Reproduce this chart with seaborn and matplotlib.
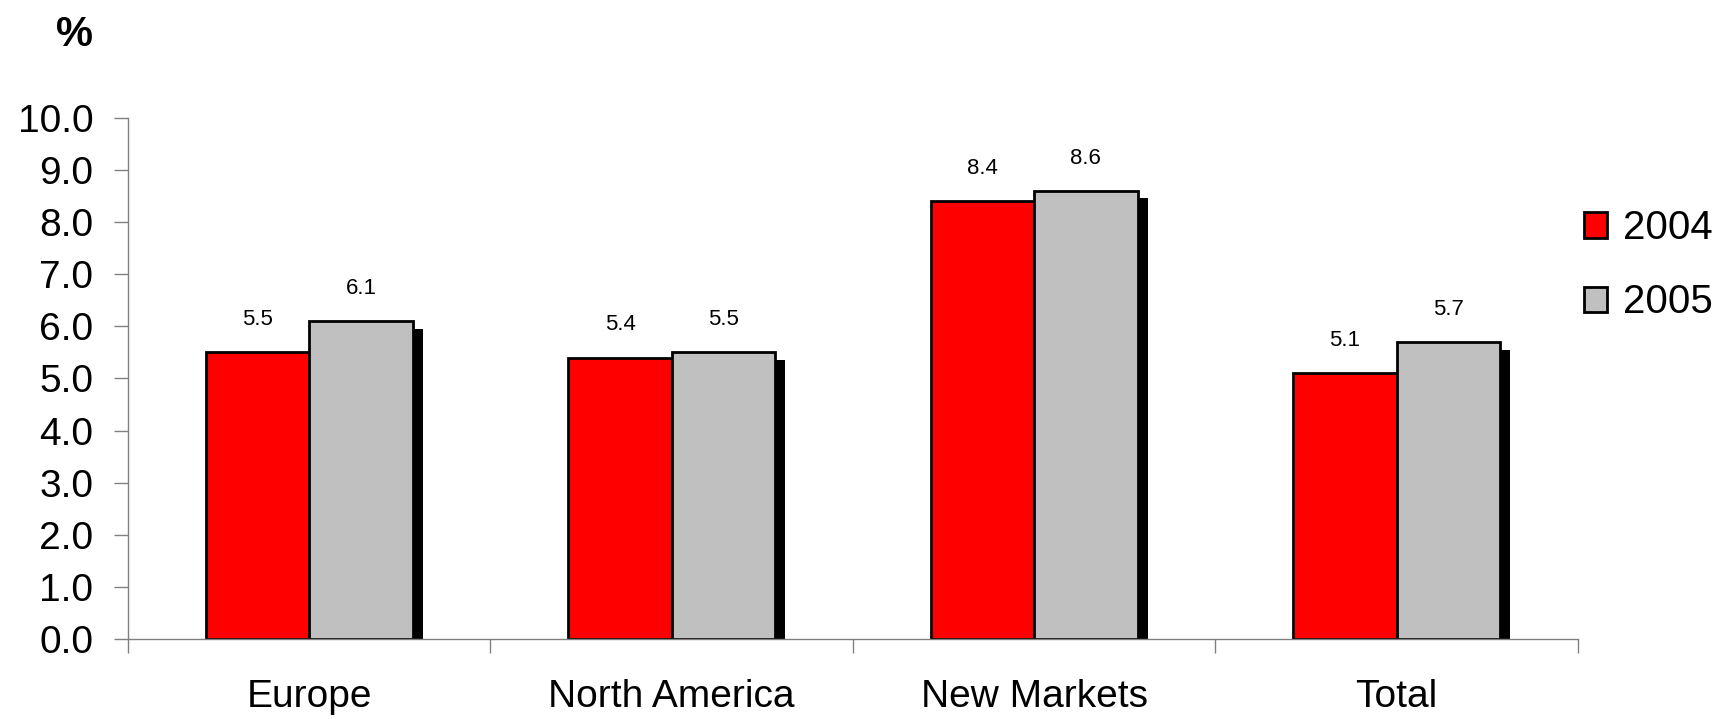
import numpy as np
import pandas as pd
import matplotlib
matplotlib.use('Agg')
import matplotlib.pyplot as plt
from matplotlib.patches import Patch
import seaborn as sns

sns.set_style('white')
plt.rcParams['font.family'] = ['Liberation Sans', 'DejaVu Sans']
plt.rcParams['text.color'] = 'black'
plt.rcParams['xtick.labelcolor'] = 'black'
plt.rcParams['ytick.labelcolor'] = 'black'

# data
regions = ['Europe', 'North America', 'New Markets', 'Total']
years = ['2004', '2005']
val_2004 = [5.5, 5.4, 8.4, 5.1]
val_2005 = [6.1, 5.5, 8.6, 5.7]
yticks = [0, 1, 2, 3, 4, 5, 6, 7, 8, 9, 10]

colors = {'2004': '#FF0000', '2005': '#C0C0C0'}

df = pd.DataFrame({
    'region': regions * 2,
    'year': ['2004'] * 4 + ['2005'] * 4,
    'value': val_2004 + val_2005,
})

fig = plt.figure(figsize=(17.27, 7.19), dpi=100)
ax = fig.add_axes([0.0741, 0.1113, 0.9137 - 0.0741, 0.8359 - 0.1113])

bw = 0.285
# shadow behind the grey bars
idx = np.arange(len(regions))
ax.bar(idx + bw / 2 + 0.028, np.array(val_2005) - 0.144, width=bw,
       color='black', linewidth=0, zorder=0.5)

sns.barplot(data=df, x='region', y='value', hue='year', order=regions,
            hue_order=years, palette=colors, width=2 * bw, gap=0,
            edgecolor='black', linewidth=2, saturation=1, ax=ax,
            legend=False, zorder=1)

# value labels (last two containers are the seaborn bars)
for cont, vals in zip(ax.containers[-2:], [val_2004, val_2005]):
    for bar, v in zip(cont, vals):
        ax.annotate(f'{v:.1f}', (bar.get_x() + bar.get_width() / 2, v),
                    xytext=(0, 16), textcoords='offset points',
                    ha='center', va='bottom', fontsize=16)

ax.set_xlim(-0.5, len(regions) - 0.5)
ax.set_ylim(0, 10)
ax.set_yticks(yticks)
ax.set_yticklabels([f'{t:.1f}' for t in yticks], fontsize=28)
ax.set_xticks(idx)
ax.set_xticklabels(regions, fontsize=28)
ax.set_xticks(np.arange(len(regions) + 1) - 0.5, minor=True)
ax.tick_params(axis='x', which='major', length=0, pad=29)
ax.tick_params(axis='x', which='minor', length=10, width=1, color='#808080',
               direction='out', bottom=True)
ax.tick_params(axis='y', length=10, width=1, color='#808080', pad=15,
               direction='out', left=True)
ax.set_xlabel('')
ax.set_ylabel('')

for s in ['top', 'right']:
    ax.spines[s].set_visible(False)
for s in ['left', 'bottom']:
    ax.spines[s].set_color('#808080')
    ax.spines[s].set_linewidth(1)

fig.text(0.043, 0.952, '%', fontsize=30, fontweight='bold', ha='center', va='center')

handles = [Patch(facecolor=colors[y], edgecolor='black', linewidth=2) for y in years]
fig.legend(handles, years, loc='upper left', bbox_to_anchor=(0.917, 0.709),
           frameon=False, fontsize=29, handlelength=0.58, handleheight=0.58,
           handletextpad=0.4, labelspacing=0.9, borderpad=0, borderaxespad=0)

fig.savefig('out.png', dpi=100)
